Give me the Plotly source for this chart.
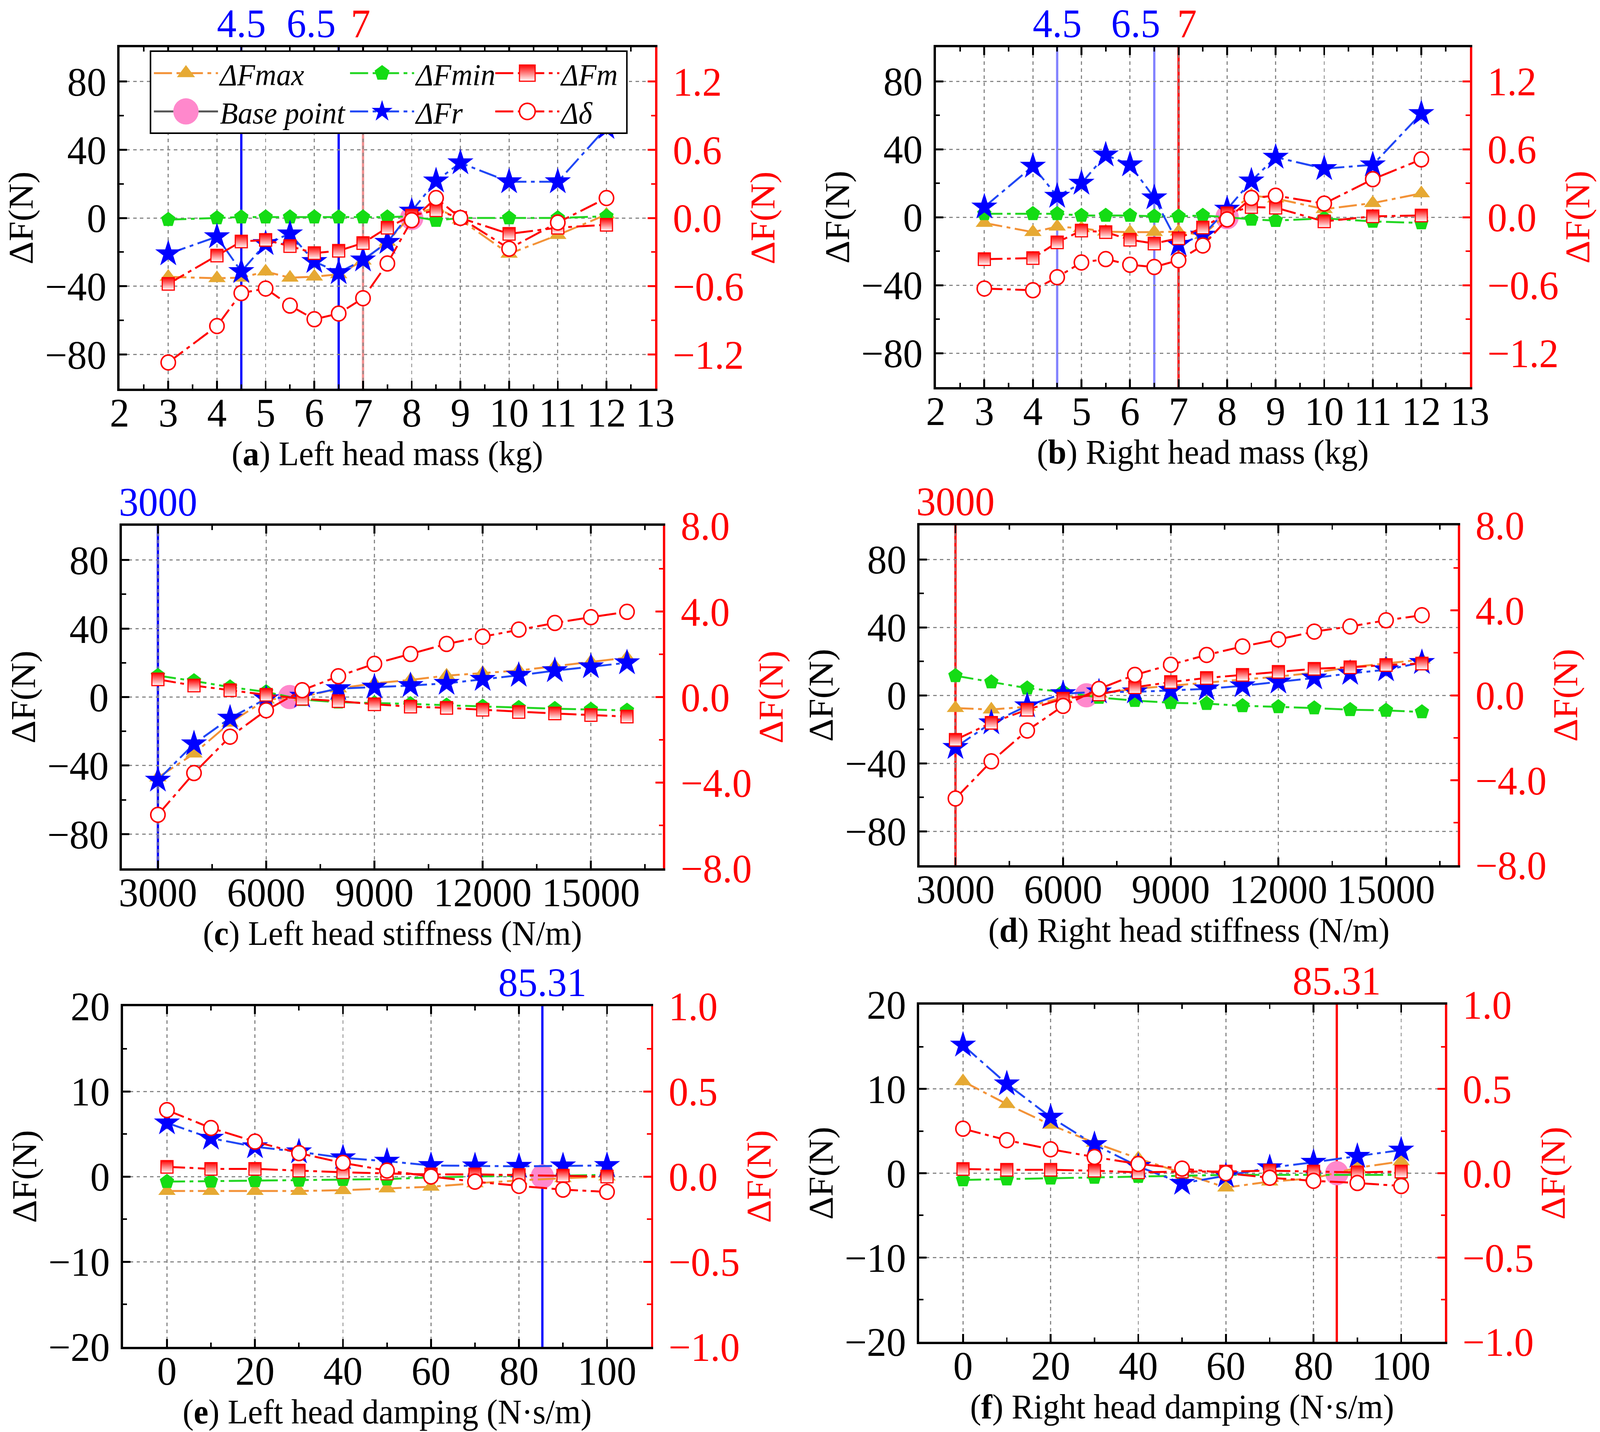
import plotly.graph_objects as go

W, H = 4242, 3666
FONT = "Liberation Serif"

# ---- x values -------------------------------------------------------------
mass = [3, 4, 4.5, 5, 5.5, 6, 6.5, 7, 7.5, 8, 8.5, 9, 10, 11, 12]
stiffness = [3000, 4000, 5000, 6000, 7000, 8000, 9000, 10000, 11000,
             12000, 13000, 14000, 15000, 16000]
damping = [0, 10, 20, 30, 40, 50, 60, 70, 80, 90, 100]

base_mass = 8
base_stiffness = 6650
base_damping = 85.31

# ---- (a) left head mass --------------------------------------------------
a_fmax = [-34.5, -35.3, -35.0, -31.4, -35.0, -34.4, -33.0, -25.0, -14.0, 2.0, 6.0, -1.0, -21.0, -10.0, 2.0]
a_fmin = [-1.0, 0.0, 0.5, 0.5, 0.5, 0.5, 0.5, 0.5, 0.5, 1.0, -1.5, 0.0, 0.0, 0.0, 1.0]
a_fm = [-38.6, -22.0, -13.8, -12.9, -16.5, -20.6, -19.2, -14.7, -5.7, 1.4, 4.5, 0.0, -9.3, -5.7, -4.0]
a_fr = [-21.0, -11.0, -31.4, -15.0, -9.3, -25.5, -32.0, -24.6, -14.3, 4.0, 21.7, 32.3, 21.2, 21.2, 53.0]
a_dd = [-1.27, -0.95, -0.66, -0.62, -0.77, -0.89, -0.84, -0.705, -0.40, -0.02, 0.175, 0.0, -0.27, -0.04, 0.175]
a_marks = [4.5, 6.5, 7]

# ---- (b) right head mass -------------------------------------------------
b_fmax = [-3.4, -8.8, -5.6, -6.5, -8.5, -8.8, -8.8, -8.5, -10.6, 2.0, 12.8, 11.0, 4.7, 8.3, 14.0]
b_fmin = [2.0, 2.0, 2.0, 1.0, 1.0, 1.0, 0.5, 0.5, 1.0, 0.0, -1.3, -2.0, -0.7, -2.5, -3.4]
b_fm = [-24.7, -24.1, -14.8, -7.9, -8.8, -13.3, -15.5, -12.4, -6.1, 2.3, 6.0, 5.6, -2.5, 0.5, 1.0]
b_fr = [6.0, 30.0, 12.3, 20.0, 36.6, 30.8, 11.4, -16.0, -10.6, 4.7, 21.3, 35.3, 28.6, 30.8, 61.0]
b_dd = [-0.63, -0.645, -0.53, -0.40, -0.37, -0.42, -0.44, -0.38, -0.25, -0.02, 0.17, 0.19, 0.12, 0.335, 0.51]
b_marks = [4.5, 6.5, 7]

# ---- (c) left head stiffness ---------------------------------------------
c_fmax = [-47.0, -33.0, -15.0, -1.5, 0.0, 5.0, 8.0, 10.0, 12.5, 14.0, 15.5, 18.0, 20.5, 23.0]
c_fmin = [12.5, 9.4, 5.8, 3.0, -1.5, -3.0, -3.5, -4.0, -4.8, -5.5, -6.2, -6.8, -7.3, -7.8]
c_fm = [10.3, 6.7, 4.0, 1.3, -1.0, -2.4, -4.2, -5.6, -6.3, -7.4, -8.7, -9.6, -10.5, -11.4]
c_fr = [-48.5, -27.3, -12.3, -1.0, 0.5, 4.9, 5.8, 6.7, 8.0, 10.3, 12.7, 15.4, 17.7, 20.0]
c_dd = [-5.5, -3.55, -1.85, -0.62, 0.32, 0.97, 1.55, 2.01, 2.48, 2.82, 3.15, 3.46, 3.73, 3.98]
c_marks = [3000]

# ---- (d) right head stiffness --------------------------------------------
d_fmax = [-7.5, -8.4, -6.7, -1.3, 1.0, 3.8, 5.6, 7.5, 9.3, 11.0, 13.3, 16.5, 18.7, 21.0]
d_fmin = [11.5, 7.8, 4.2, 2.0, -1.3, -3.1, -4.4, -4.9, -6.2, -6.8, -7.5, -8.5, -8.9, -9.8]
d_fm = [-26.2, -16.2, -8.5, -2.0, 0.5, 4.7, 7.8, 10.2, 12.0, 13.8, 15.6, 16.5, 17.8, 18.7]
d_fr = [-30.7, -16.2, -6.2, 1.0, 2.0, 2.0, 2.9, 3.8, 5.6, 7.8, 10.2, 12.9, 15.0, 19.3]
d_dd = [-4.86, -3.11, -1.66, -0.5, 0.3, 0.96, 1.44, 1.9, 2.3, 2.63, 3.0, 3.24, 3.53, 3.77]
d_marks = [3000]

# ---- (e) left head damping -----------------------------------------------
e_fmax = [-1.7, -1.7, -1.7, -1.7, -1.6, -1.4, -1.2, -0.8, -0.45, -0.2, 0.0]
e_fmin = [-0.6, -0.55, -0.5, -0.45, -0.36, -0.3, -0.1, 0.0, 0.1, 0.1, 0.2]
e_fm = [1.14, 0.9, 0.9, 0.7, 0.5, 0.36, 0.25, 0.25, 0.18, 0.1, 0.0]
e_fr = [6.3, 4.5, 3.5, 2.9, 2.2, 1.8, 1.3, 1.25, 1.2, 1.25, 1.3]
e_dd = [0.39, 0.285, 0.205, 0.1375, 0.08, 0.035, 0.0, -0.03, -0.055, -0.077, -0.09]
e_marks = [85.31]

# ---- (f) right head damping ----------------------------------------------
f_fmax = [10.9, 8.2, 5.75, 3.6, 1.75, 0.0, -1.7, -1.0, -0.6, 0.65, 1.4]
f_fmin = [-0.8, -0.7, -0.6, -0.5, -0.4, -0.25, -0.2, -0.2, -0.2, -0.2, -0.2]
f_fm = [0.5, 0.4, 0.4, 0.3, 0.1, 0.2, 0.2, 0.3, 0.2, 0.1, 0.2]
f_fr = [15.2, 10.6, 6.65, 3.4, 0.8, -1.2, -0.3, 0.65, 1.3, 2.0, 2.75]
f_dd = [0.264, 0.196, 0.142, 0.096, 0.055, 0.027, 0.0, -0.027, -0.045, -0.058, -0.076]
f_marks = [85.31]

titles = ["(<b>a</b>) Left head mass (kg)", "(<b>b</b>) Right head mass (kg)",
          "(<b>c</b>) Left head stiffness (N/m)", "(<b>d</b>) Right head stiffness (N/m)",
          "(<b>e</b>) Left head damping (N·s/m)", "(<b>f</b>) Right head damping (N·s/m)"]

BLUE, RED, LBLUE, LRED = "#0000FF", "#FF0000", "#8282FF", "#F29090"

# label placement for the marked values: (anchor, shift px)
panels = [
    dict(x=mass, fmax=a_fmax, fmin=a_fmin, fm=a_fm, fr=a_fr, dd=a_dd, base=base_mass,
         marks=a_marks, mark_col=[BLUE, BLUE, LRED], lab_col=[BLUE, BLUE, RED],
         lab_pos=[("center", 0), ("right", -6), ("center", -6)],
         box=(317, 1737, 121, 995), xr=[2, 13], xt=(2, 1, 0.5),
         yr=[-100, 100], yt=(0, 40, 20), y2r=[-1.5, 1.5], y2t=(0, 0.6, 0.3)),
    dict(x=mass, fmax=b_fmax, fmin=b_fmin, fm=b_fm, fr=b_fr, dd=b_dd, base=base_mass,
         marks=b_marks, mark_col=[LBLUE, LBLUE, RED], lab_col=[BLUE, BLUE, RED],
         lab_pos=[("center", 0), ("right", 18), ("left", -6)],
         box=(2481, 3897, 121, 991), xr=[2, 13], xt=(2, 1, 0.5),
         yr=[-100, 100], yt=(0, 40, 20), y2r=[-1.5, 1.5], y2t=(0, 0.6, 0.3)),
    dict(x=stiffness, fmax=c_fmax, fmin=c_fmin, fm=c_fm, fr=c_fr, dd=c_dd, base=base_stiffness,
         marks=c_marks, mark_col=[BLUE], lab_col=[BLUE], lab_pos=[("center", 0)],
         box=(323, 1758, 1346, 2223), xr=[2000, 17000], xt=(3000, 3000, 1500),
         yr=[-100, 100], yt=(0, 40, 20), y2r=[-8, 8], y2t=(0, 4, 2)),
    dict(x=stiffness, fmax=d_fmax, fmin=d_fmin, fm=d_fm, fr=d_fr, dd=d_dd, base=base_stiffness,
         marks=d_marks, mark_col=[RED], lab_col=[RED], lab_pos=[("center", 0)],
         box=(2438, 3865, 1345, 2215), xr=[2000, 17000], xt=(3000, 3000, 1500),
         yr=[-100, 100], yt=(0, 40, 20), y2r=[-8, 8], y2t=(0, 4, 2)),
    dict(x=damping, fmax=e_fmax, fmin=e_fmin, fm=e_fm, fr=e_fr, dd=e_dd, base=base_damping,
         marks=e_marks, mark_col=[BLUE], lab_col=[BLUE], lab_pos=[("center", 0)],
         box=(326, 1726, 2576, 3448), xr=[-10, 110], xt=(0, 20, 10),
         yr=[-20, 20], yt=(0, 10, 5), y2r=[-1, 1], y2t=(0, 0.5, 0.25)),
    dict(x=damping, fmax=f_fmax, fmin=f_fmin, fm=f_fm, fr=f_fr, dd=f_dd, base=base_damping,
         marks=f_marks, mark_col=[RED], lab_col=[RED], lab_pos=[("center", 0)],
         box=(2437, 3831, 2572, 3435), xr=[-10, 110], xt=(0, 20, 10),
         yr=[-20, 20], yt=(0, 10, 5), y2r=[-1, 1], y2t=(0, 0.5, 0.25)),
]

# series styles: key, name, line colour, marker colour, symbol, size, legend, rank
series = [
    ("fmax", "ΔFmax", "#F39237", "#E6A933", "triangle-up", 40, "legend", 1),
    ("fmin", "ΔFmin", "#22D622", "#14DC14", "pentagon", 40, "legend", 2),
    ("fr", "ΔFr", "#2047F5", "#0000FF", "star", 52, "legend2", 2),
    ("fm", "ΔFm", "#FF0000", "#FF0000", "square", 32, "legend", 3),
]

DASH = "48px,12px,10px,12px"

fig = go.Figure()
layout = {}
annotations = []
shapes = []

tickfont = dict(family=FONT, size=104, color="black")

for i, p in enumerate(panels):
    xn = "" if i == 0 else str(i + 1)
    yl = "" if i == 0 else str(2 * i + 1)
    yr = str(2 * i + 2)
    show = i == 0
    l, r, t, b = p["box"]
    xd = [l / W, r / W]
    yd = [1 - b / H, 1 - t / H]

    # base point first so everything sits over it
    fig.add_trace(go.Scatter(
        x=[p["base"]], y=[0], mode="lines+markers", name="Base point",
        line=dict(color="#555555", width=5),
        marker=dict(symbol="circle", size=62, color="#FF88CC", line=dict(width=0)),
        xaxis="x" + xn, yaxis="y" + yl, showlegend=show,
        legend="legend2", legendrank=1))

    for key, name, lc, mc, sym, size, leg, rank in series:
        mk = dict(symbol=sym, size=size, color=mc, line=dict(width=0))
        if key == "fm":
            # half-filled look of the original squares
            mk["gradient"] = dict(type="vertical", color="white")
            mk["line"] = dict(color=mc, width=3)
        fig.add_trace(go.Scatter(
            x=p["x"], y=p[key], mode="lines+markers", name=name,
            line=dict(color=lc, width=5, dash=DASH), marker=mk,
            xaxis="x" + xn, yaxis="y" + yl, showlegend=show,
            legend=leg, legendrank=rank))

    fig.add_trace(go.Scatter(
        x=p["x"], y=p["dd"], mode="lines+markers", name="Δδ",
        line=dict(color=RED, width=5, dash=DASH),
        marker=dict(symbol="circle", size=38, color="white", line=dict(color=RED, width=4)),
        xaxis="x" + xn, yaxis="y" + yr, showlegend=show,
        legend="legend2", legendrank=3))

    x0, xdt, xmin = p["xt"]
    layout["xaxis" + xn] = dict(
        domain=xd, anchor="y" + yl, range=p["xr"], tick0=x0, dtick=xdt, tickformat="d",
        showline=True, linecolor="black", linewidth=6, mirror="ticks",
        ticks="inside", ticklen=20, tickwidth=5, tickcolor="black",
        minor=dict(ticks="inside", ticklen=11, tickwidth=4, tickcolor="black",
                   dtick=xmin, tick0=x0, showgrid=False),
        showgrid=True, gridcolor="#888888", gridwidth=2.5, griddash="dash",
        zeroline=False, automargin=False, tickfont=tickfont, ticklabelstandoff=-34)
    y0, ydt, ymin = p["yt"]
    layout["yaxis" + yl] = dict(
        domain=yd, anchor="x" + xn, range=p["yr"], tick0=y0, dtick=ydt,
        showline=True, linecolor="black", linewidth=6, mirror=False,
        ticks="inside", ticklen=20, tickwidth=5, tickcolor="black",
        minor=dict(ticks="inside", ticklen=11, tickwidth=4, tickcolor="black",
                   dtick=ymin, tick0=y0, showgrid=False),
        showgrid=True, gridcolor="#888888", gridwidth=2.5, griddash="dash",
        zeroline=False, automargin=False, tickfont=tickfont, ticklabelstandoff=8)
    z0, zdt, zmin = p["y2t"]
    layout["yaxis" + yr] = dict(
        domain=yd, anchor="x" + xn, overlaying="y" + yl, side="right",
        range=p["y2r"], tick0=z0, dtick=zdt, tickformat=".1f",
        showline=True, linecolor=RED, linewidth=6,
        ticks="inside", ticklen=20, tickwidth=5, tickcolor=RED,
        minor=dict(ticks="inside", ticklen=11, tickwidth=4, tickcolor=RED,
                   dtick=zmin, tick0=z0, showgrid=False),
        showgrid=False, zeroline=False, automargin=False,
        tickfont=dict(family=FONT, size=104, color=RED), ticklabelstandoff=20)

    # marked values: vertical lines + labels above the frame
    for xv, mc, tc, (anc, sh) in zip(p["marks"], p["mark_col"], p["lab_col"], p["lab_pos"]):
        shapes.append(dict(type="line", xref="x" + xn, yref="paper",
                           x0=xv, x1=xv, y0=yd[0], y1=yd[1], layer="below",
                           line=dict(color=mc, width=6)))
        annotations.append(dict(text=str(xv), xref="x" + xn, yref="paper",
                                x=xv, y=yd[1], xanchor=anc, yanchor="bottom",
                                showarrow=False, xshift=sh, yshift=2,
                                font=dict(family=FONT, size=104, color=tc)))

    annotations.append(dict(text=titles[i], xref="paper", yref="paper",
                            x=(xd[0] + xd[1]) / 2, y=yd[0], xanchor="center",
                            yanchor="middle", yshift=-166, showarrow=False,
                            font=dict(family=FONT, size=88, color="black")))
    annotations.append(dict(text="ΔF(N)", xref="paper", yref="paper",
                            x=xd[0], y=(yd[0] + yd[1]) / 2, xshift=-262,
                            xanchor="center", yanchor="middle",
                            textangle=-90, showarrow=False,
                            font=dict(family=FONT, size=92, color="black")))
    annotations.append(dict(text="ΔF(N)", xref="paper", yref="paper",
                            x=xd[1], y=(yd[0] + yd[1]) / 2, xshift=285,
                            xanchor="center", yanchor="middle",
                            textangle=-90, showarrow=False,
                            font=dict(family=FONT, size=92, color=RED)))

# legend frame (panel a)
shapes.append(dict(type="rect", xref="paper", yref="paper",
                   x0=399 / W, x1=1662 / W, y0=1 - 341 / H, y1=1 - 131 / H,
                   layer="above", fillcolor="white",
                   line=dict(color="black", width=4)))

legend_font = dict(family=FONT, size=78, color="black", style="italic")
fig.update_layout(
    width=W, height=H,
    margin=dict(l=0, r=0, t=0, b=0, autoexpand=False),
    paper_bgcolor="white", plot_bgcolor="white",
    font=dict(family=FONT, color="black"),
    annotations=annotations, shapes=shapes,
    legend=dict(orientation="h", x=403 / W, y=1 - 130 / H, xanchor="left", yanchor="top",
                bgcolor="rgba(0,0,0,0)", borderwidth=0, itemwidth=170,
                font=legend_font, traceorder="normal"),
    legend2=dict(orientation="h", x=403 / W, y=1 - 228 / H, xanchor="left", yanchor="top",
                 bgcolor="rgba(0,0,0,0)", borderwidth=0, itemwidth=170,
                 font=legend_font, traceorder="normal"),
    **layout,
)

# legend column widths (col 1 / col 2 / col 3)
col_w = {"ΔFmax": 335, "Base point": 335, "ΔFmin": 200, "ΔFr": 200, "ΔFm": 190, "Δδ": 190}
for tr in fig.data:
    if tr.showlegend is not False and tr.name in col_w:
        tr.legendwidth = col_w[tr.name]

# pin the figure to the page corner and fit it to the viewport, and enlarge the
# legend symbols (plotly.js caps them at 16px) to match the plot markers
post_js = """
var gd = document.getElementById('{plot_id}');
document.documentElement.style.overflow = 'hidden';
document.body.style.overflow = 'hidden';
document.body.style.margin = '0';
gd.style.position = 'absolute';
gd.style.left = '0px';
gd.style.top = '0px';
var vw = document.documentElement.clientWidth || window.innerWidth;
var vh = document.documentElement.clientHeight || window.innerHeight;
gd.style.transformOrigin = '0 0';
gd.style.transform = 'scale(' + (vw / 4242) + ',' + (vh / 3666) + ')';
function bigLegend() {
  gd.querySelectorAll('g.traces').forEach(function (g) {
    g.querySelectorAll('path.scatterpts').forEach(function (p) {
      var fill = (p.style.fill || p.getAttribute('fill') || '').replace(/ /g, '');
      var s = fill.indexOf('255,136,204') >= 0 ? 4.2 : 2.6;
      var tr = p.getAttribute('transform') || '';
      if (tr.indexOf('scale') < 0) {
        p.setAttribute('transform', tr + ' scale(' + s + ')');
        p.style.vectorEffect = 'non-scaling-stroke';
      }
    });
  });
}
bigLegend();
gd.on('plotly_afterplot', bigLegend);
"""

fig.write_html("out.html", post_script=post_js, config={"displayModeBar": False})
